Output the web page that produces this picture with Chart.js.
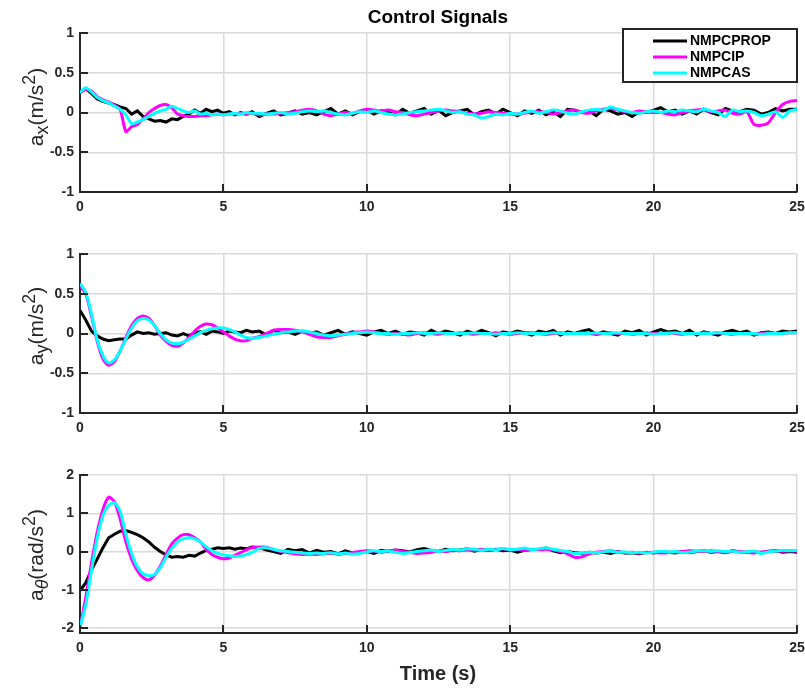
<!DOCTYPE html>
<html><head><meta charset="utf-8">
<script src="https://cdn.jsdelivr.net/npm/chart.js@4.4.1/dist/chart.umd.min.js"></script>
<style>
html,body{margin:0;padding:0;background:#fff;}
#wrap{position:relative;width:805px;height:688px;overflow:hidden;font-family:"Liberation Sans",Arial,sans-serif;color:#262626;}
canvas{position:absolute;left:0;top:0;}
.title{position:absolute;left:438px;top:17px;transform:translate(-50%,-50%);font-weight:bold;font-size:19px;color:#000;white-space:nowrap;}
.xlab{position:absolute;left:438px;top:673px;transform:translate(-50%,-50%);font-weight:bold;font-size:20px;color:#262626;white-space:nowrap;}
.ylab{position:absolute;left:35px;transform:translate(-50%,-50%) rotate(-90deg);font-size:21px;white-space:nowrap;line-height:1;}
.ylab sub,.ylab sup{font-size:0.85em;line-height:0;}
</style></head><body>
<div id="wrap">
<canvas id="c1" width="805" height="688"></canvas>
<canvas id="c2" width="805" height="688"></canvas>
<canvas id="c3" width="805" height="688"></canvas>
<div class="title">Control Signals</div>
<div class="ylab" style="top:107px">a<sub>x</sub>(m/s<sup>2</sup>)</div>
<div class="ylab" style="top:326px">a<sub>y</sub>(m/s<sup>2</sup>)</div>
<div class="ylab" style="top:555px">a<sub><i>θ</i></sub>(rad/s<sup>2</sup>)</div>
<div class="xlab">Time (s)</div>
</div>
<script>
const seriesNames = ['NMPCPROP','NMPCIP','NMPCAS'];
const xTicks = [0,5,10,15,20,25];
const yTicksAcc = [-1,-0.5,0,0.5,1];
const yTicksAng = [-2,-1,0,1,2];

const time = [0,0.2,0.4,0.6,0.8,1,1.2,1.4,1.6,1.8,2,2.2,2.4,2.6,2.8,3,3.2,3.4,3.6,3.8,4,4.2,4.4,4.6,4.8,5,5.2,5.4,5.6,5.8,6,
6.25,6.5,6.75,7,7.25,7.5,7.75,8,8.25,8.5,8.75,9,9.25,9.5,9.75,10,10.25,10.5,10.75,11,11.25,11.5,11.75,12,
12.25,12.5,12.75,13,13.25,13.5,13.75,14,14.25,14.5,14.75,15,15.25,15.5,15.75,16,16.25,16.5,16.75,17,17.25,17.5,17.75,18,
18.25,18.5,18.75,19,19.25,19.5,19.75,20,20.25,20.5,20.75,21,21.25,21.5,21.75,22,22.25,22.5,22.75,23,23.25,23.5,23.75,24,24.25,24.5,24.75,25];

// a_x
const axProp = [0.25,0.3,0.24,0.17,0.14,0.12,0.1,0.07,0.05,-0.02,0.02,-0.05,-0.08,-0.11,-0.1,-0.12,-0.08,-0.09,-0.05,-0.02,0.03,-0.01,0.04,0.01,0.03,-0.01,0.01,-0.03,0,-0.02,0.01,
-0.05,-0.01,0.02,-0.03, -0.01,0.02,-0.02,0, -0.03,0.01,0.05,-0.02, 0.02,-0.03,0.01,0.03, -0.02,0.02,0,-0.03, 0.04,-0.01,0.02,0.05,
-0.02,0.03,-0.04,0, 0.02,0.04,-0.03,0.01, 0.03,-0.02,0.04,0, -0.04,0.02,-0.01,0.03, -0.03,0.01,-0.05,0.04, 0.03,0,0.02,-0.04,
0.04,0.02,-0.02,0, -0.05,0.01,0,0.03, 0.06,0.01,0.03,-0.02, 0.02,-0.02,0.04,0, -0.03,0.05,0.02,0.01, 0.04,0.03,-0.02,0, 0.05,0.02,0.04,0.04];
const axIP = [0.25,0.29,0.27,0.2,0.16,0.13,0.09,0.04,-0.24,-0.18,-0.15,-0.08,0,0.05,0.09,0.1,0.06,-0.02,-0.04,-0.05,-0.05,-0.04,-0.04,-0.03,-0.02,-0.03,-0.02,-0.02,-0.01,-0.02,-0.01,
-0.03,-0.02,-0.02,-0.01, 0,0.01,0.03,0.04, 0.02,-0.02,-0.04,-0.02, 0,-0.01,0.02,0.04, 0.03,0.02,0.03,0.01, 0,-0.03,-0.04,-0.02,
0,0.02,0.03,0.02, 0.01,-0.01,-0.02,-0.01, 0.01,0,-0.01,-0.02, -0.02,-0.01,0.01,0.01, 0,-0.02,0,0.02, 0.03,0,-0.01,0.02,
0.04,0.05,0.03,0.01, 0,0.02,0.01,0, 0,-0.02,-0.03,0, 0.02,0.03,0.04,0.01, 0.02,0.03,-0.01,-0.02, 0.01,-0.15,-0.16,-0.13, 0,0.1,0.14,0.15];
const axAS = [0.25,0.31,0.26,0.19,0.15,0.12,0.08,0.04,-0.03,-0.14,-0.12,-0.09,-0.05,-0.01,0.02,0.04,0.08,0.05,0.02,0,0.02,-0.02,-0.01,-0.03,-0.02,-0.03,-0.02,-0.01,-0.02,0,-0.01,
-0.01,-0.02,-0.01,0, -0.02,-0.01,0.01,0.02, 0.01,0.02,0,-0.02, -0.03,-0.01,0.01,0, 0.02,0,-0.02,-0.03, -0.02,0,0.01,0.02,
0.03,0.04,0.02,0, 0.01,-0.02,-0.03,-0.07, -0.05,-0.02,-0.03,-0.01, -0.02,0,0.02,-0.01, 0.01,0.03,0.02,-0.01, -0.02,0.01,0.03,0.04,
0.03,0.07,0.04,0.02, 0,-0.01,0.01,0.02, 0,0.02,0.01,0.03, 0.02,0.01,0.04,0.02, 0,-0.05,0.03,0.01, 0.02,0,-0.04,-0.02, 0.01,-0.06,0.02,0.04];

// a_y
const ayProp = [0.29,0.17,0.03,-0.03,-0.07,-0.09,-0.08,-0.07,-0.07,-0.02,0.02,0,0.01,-0.01,0,0.01,-0.02,-0.03,0,-0.03,0.01,0.02,-0.01,0.03,0.02,0,0.03,0.02,0.01,0.04,0.02,
0.03,-0.02,0.04,0.01, 0.02,-0.01,0.03,0, 0.02,-0.02,0.01,0.04, -0.01,0.02,0,-0.02, 0.02,0.04,0,0.03, -0.01,0.02,0.01,-0.02,
0.04,0,0.03,0.01, -0.02,0.03,0,0.04, 0.01,-0.03,0.02,0, 0.03,0.01,-0.02,0.03, 0.01,0.04,-0.02,0.02, 0,0.03,0.05,-0.01,
0.02,0,-0.02,0.03, 0.01,0.04,-0.02,0.02, 0.05,0.02,0.03,0, 0.04,-0.02,0.02,0, -0.02,0.02,0.04,0.01, 0.03,-0.02,0.01,0.02, 0,0.03,0.02,0.03];
const ayIP = [0.6,0.5,0.22,-0.1,-0.32,-0.4,-0.35,-0.22,-0.05,0.1,0.19,0.22,0.19,0.1,-0.02,-0.1,-0.15,-0.16,-0.12,-0.05,0.03,0.09,0.12,0.11,0.07,0.02,-0.03,-0.07,-0.09,-0.09,-0.06,
-0.04,0,0.04,0.05, 0.05,0.04,0.02,-0.01, -0.04,-0.05,-0.05,-0.03, -0.01,0.01,0.02,0.03, 0.02,0,-0.01,0, -0.01,-0.02,0,0.01,
0,-0.01,0,0, 0.01,0,-0.01,0, 0,0.01,0,-0.01, 0,0.01,0.01,0, -0.01,0,0.01,0, 0,0.01,0,-0.01,
0,0.01,0,0, -0.01,0,0.01,0, 0,0.01,0,-0.01, 0,0,0.01,0, 0.01,0,-0.01,0, 0,-0.01,0,0.01, 0,0,0.01,0.01];
const ayAS = [0.63,0.52,0.25,-0.08,-0.28,-0.37,-0.33,-0.22,-0.07,0.07,0.16,0.19,0.17,0.1,0,-0.08,-0.12,-0.13,-0.11,-0.07,-0.03,0.01,0.04,0.06,0.07,0.07,0.05,0.02,-0.02,-0.05,-0.06,
-0.05,-0.03,-0.01,0.01, 0.02,0.03,0.03,0.02, 0,-0.02,-0.03,-0.02, -0.01,0,0.01,0.02, 0.01,0,0,-0.01, 0,0,0.01,0,
0,0.01,0,0, 0,0,0.01,0, 0,-0.01,0,0, 0.01,0,0,0, 0,0.01,0,0, 0,0,0,0.01,
0,0,0.01,0, 0,0,0,-0.01, 0,0,0.01,0, 0,0,0,0, 0.01,0,0,0, 0,0,-0.01,0, 0,0,0.01,0.01];

// a_theta
const athProp = [-1.02,-0.82,-0.48,-0.2,0.1,0.36,0.45,0.53,0.55,0.5,0.44,0.36,0.25,0.11,0,-0.09,-0.15,-0.13,-0.15,-0.1,-0.12,-0.04,0.03,0.06,0.1,0.08,0.1,0.06,0.09,0.07,0.12,
0.1,0.04,0,-0.05, 0.06,0.02,0.05,-0.04, 0.03,-0.02,0,-0.06, 0.02,-0.04,-0.02,0, -0.05,0.03,0,0.04, 0.02,-0.01,0.05,0.08,
0.03,0,0.06,0.02, 0.04,0.07,0.01,0.05, 0.03,0.06,0.02,0.04, -0.02,0.03,0.05,0.06, 0.09,0.02,-0.03,0, -0.03,-0.05,-0.02,-0.04,
-0.02,-0.05,0,-0.04, -0.03,-0.06,-0.02,-0.04, 0,-0.02,-0.04,0, -0.03,0,0.02,-0.02, 0,-0.03,0.02,-0.01, -0.02,0,-0.03,0.01, 0.02,-0.02,0,-0.02];
const athIP = [-2,-1.2,-0.3,0.5,1.1,1.42,1.3,0.85,0.25,-0.2,-0.5,-0.68,-0.74,-0.62,-0.38,-0.08,0.2,0.35,0.44,0.44,0.36,0.25,0.05,-0.08,-0.15,-0.19,-0.17,-0.1,-0.03,0.05,0.1,
0.12,0.11,0.05,0, -0.03,-0.06,-0.08,-0.07, -0.08,-0.06,-0.05,-0.07, -0.05,-0.03,0,0.02, 0.01,-0.02,0.02,0.03, 0,-0.02,-0.05,-0.04,
-0.02,0.01,0,0.03, 0.02,0.04,0.03,0.06, 0.03,0.05,0.07,0.04, 0.05,0.03,0.06,0.05, 0.06,0.04,0,-0.06, -0.15,-0.14,-0.06,-0.02,
0,0.02,-0.01,-0.03, -0.02,-0.04,-0.03,-0.02, -0.04,-0.03,-0.01,0, 0.02,0.01,0,0.02, 0,-0.02,0.01,0, -0.02,-0.04,-0.01,0, 0.02,0.01,0.02,0.01];
const athAS = [-1.97,-1.4,-0.5,0.35,0.95,1.2,1.28,1.05,0.45,-0.05,-0.4,-0.58,-0.63,-0.6,-0.42,-0.15,0.08,0.25,0.33,0.36,0.33,0.25,0.12,0.02,-0.05,-0.09,-0.11,-0.13,-0.12,-0.08,-0.03,
0.08,0.1,0.06,0.02, 0,-0.02,-0.04,-0.05, -0.04,-0.05,-0.03,-0.06, -0.04,-0.07,-0.05,-0.01, 0.02,0,0.01,-0.02, -0.05,-0.03,0,0.02,
0.04,0,0.03,0.05, 0.04,0.07,0.06,0.03, 0.06,0.04,0.08,0.05, 0.06,0.09,0.05,0.07, 0.1,0.06,0.03,0, -0.05,-0.04,-0.02,-0.03,
-0.01,0.01,-0.02,-0.01, -0.03,-0.02,-0.04,-0.02, 0.01,-0.01,0,-0.03, -0.02,0.01,0.02,0, 0.02,0,0.01,-0.02, -0.01,0.01,-0.05,-0.01, 0.01,0.03,0.02,0.03];

const AXIS_COLOR = '#262626';
const GRID_COLOR = '#d9d9d9';
const LINE_COLORS = ['#000000','#ff00ff','#00ffff'];

const insideTicks = {
  id:'insideTicks',
  afterDraw(chart){
    const {ctx, chartArea:a, scales:{x,y}} = chart;
    ctx.save(); ctx.strokeStyle=AXIS_COLOR; ctx.lineWidth=2;
    y.ticks.forEach(t=>{const py=Math.round(y.getPixelForValue(t.value)); ctx.beginPath(); ctx.moveTo(a.left,py); ctx.lineTo(a.left+8,py); ctx.stroke();});
    x.ticks.forEach(t=>{const px=Math.round(x.getPixelForValue(t.value)); ctx.beginPath(); ctx.moveTo(px,a.bottom); ctx.lineTo(px,a.bottom-8); ctx.stroke();});
    ctx.restore();
  }
};

const legendBox = {
  id:'legendBox',
  afterDraw(chart, args, opts){
    if(!opts.show) return;
    const ctx = chart.ctx, a = chart.chartArea;
    const w = 174, h = 53, right = a.right, top = a.top - 4;
    const left = right - w;
    ctx.save();
    ctx.fillStyle='#fff'; ctx.fillRect(left,top,w,h);
    ctx.strokeStyle=AXIS_COLOR; ctx.lineWidth=2; ctx.strokeRect(left,top,w,h);
    ctx.font='bold 14px "Liberation Sans", Arial, sans-serif';
    ctx.textBaseline='middle'; ctx.fillStyle='#000';
    chart.data.datasets.forEach((ds,i)=>{
      const yy = top + 12 + i*16;
      ctx.strokeStyle=ds.borderColor; ctx.lineWidth=3;
      ctx.beginPath(); ctx.moveTo(left+30,yy); ctx.lineTo(left+64,yy); ctx.stroke();
      ctx.fillText(ds.label, left+67, yy+0.5);
    });
    ctx.restore();
  }
};

function makeChart(id, arrays, yMin, yMax, yTickVals, plotTop, plotBottom, showLegend){
  const xH = 25;
  const datasets = arrays.map((arr,i)=>({
    label: seriesNames[i],
    data: time.map((t,k)=>({x:t, y:arr[k]})),
    borderColor: LINE_COLORS[i],
    backgroundColor: LINE_COLORS[i],
    borderWidth: 3,
    pointRadius: 0,
    tension: i===0 ? 0 : 0.25,
    order: 3-i,
    fill: false
  }));
  return new Chart(document.getElementById(id), {
    type:'line',
    data:{datasets},
    plugins:[insideTicks, legendBox],
    options:{
      responsive:false, animation:false, devicePixelRatio:1,
      layout:{padding:{top:plotTop, bottom:688-plotBottom-xH, left:0, right:8}},
      plugins:{legend:{display:false}, tooltip:{enabled:false}, legendBox:{show:showLegend}},
      scales:{
        x:{type:'linear', min:0, max:25,
           afterBuildTicks(s){ s.ticks = xTicks.map(v=>({value:v})); },
           afterFit(s){ s.height = xH; s.paddingLeft=0; s.paddingRight=0; },
           grid:{color:GRID_COLOR, lineWidth:1.5, drawTicks:false},
           border:{color:AXIS_COLOR, width:2},
           ticks:{padding:7, maxRotation:0, color:AXIS_COLOR, font:{family:'"Liberation Sans", Arial, sans-serif', size:14, weight:'bold'}, callback:v=>String(v)}
        },
        y:{type:'linear', min:yMin, max:yMax,
           afterBuildTicks(s){ s.ticks = yTickVals.map(v=>({value:v})); },
           afterFit(s){ s.width = 80; s.paddingTop=0; s.paddingBottom=0; },
           grid:{color:GRID_COLOR, lineWidth:1.5, drawTicks:false},
           border:{color:AXIS_COLOR, width:2},
           ticks:{padding:6, color:AXIS_COLOR, font:{family:'"Liberation Sans", Arial, sans-serif', size:14, weight:'bold'}, callback:v=>String(v)}
        }
      }
    }
  });
}

makeChart('c1', [axProp, axIP, axAS], -1, 1, yTicksAcc, 33, 192, true);
makeChart('c2', [ayProp, ayIP, ayAS], -1, 1, yTicksAcc, 254, 413, false);
makeChart('c3', [athProp, athIP, athAS], -2.13, 2, yTicksAng, 475, 633, false);
</script>
</body></html>
